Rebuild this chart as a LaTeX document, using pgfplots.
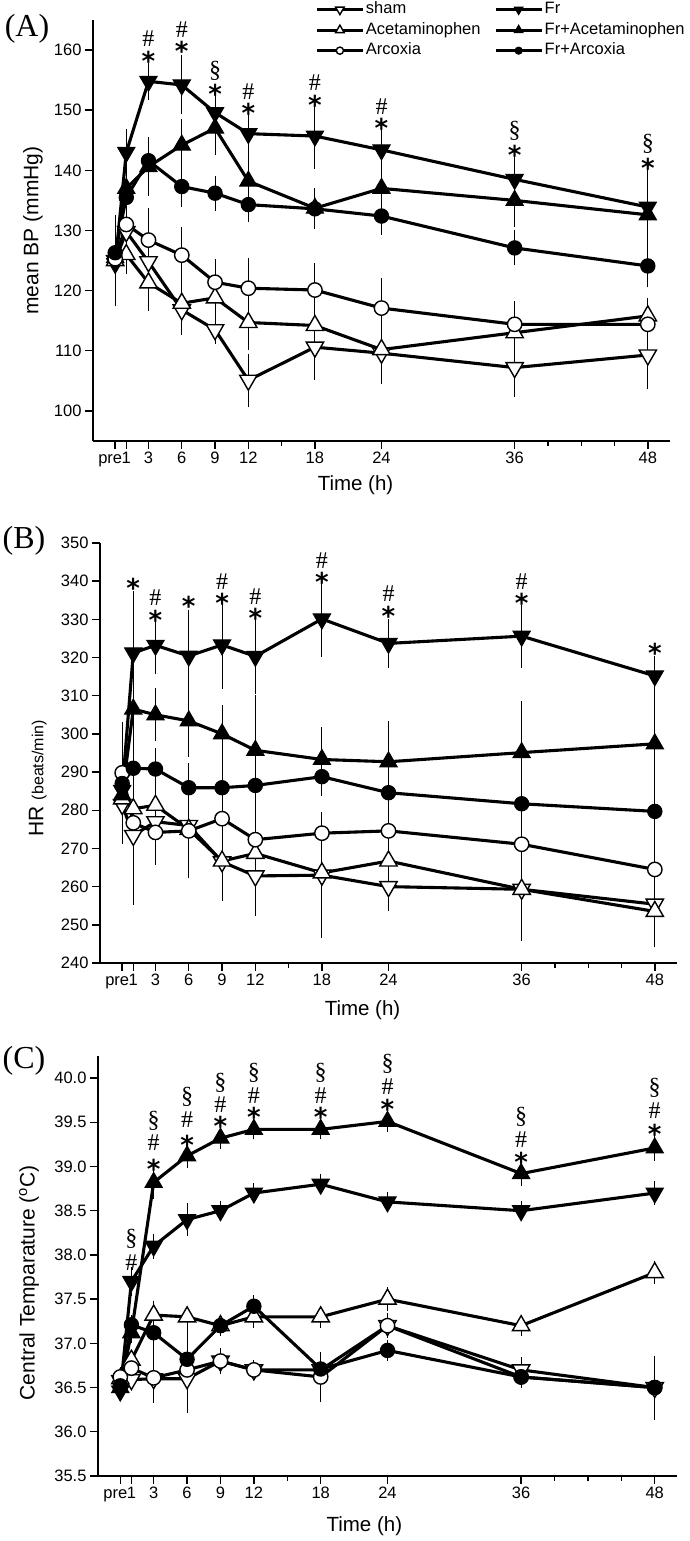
\documentclass[border=0pt]{standalone}
\usepackage{fontspec}
\setmainfont{Liberation Sans}
\newfontfamily\serif{Liberation Serif}
\newfontfamily\dejavu{DejaVu Sans}
\usepackage{pgfplots}
\pgfplotsset{compat=1.18}
\tikzset{
 ast/.style={font=\dejavu\bfseries\fontsize{26}{26}\selectfont, inner sep=0pt, anchor=base, yshift=-14.2pt},
 hsh/.style={font=\serif\fontsize{24}{24}\selectfont, inner sep=0pt, anchor=base, yshift=-8.1pt},
 sec/.style={font=\serif\fontsize{24}{24}\selectfont, inner sep=0pt, anchor=base, yshift=-6.5pt},
}
\pgfplotsset{
 panel/.style={
   scale only axis, width=577pt, anchor=south west,
   xmin=-2, xmax=50, clip=false,
   axis lines*=left,
   axis line style={line width=1.7pt},
   tick align=outside,
   major tick length=8pt, minor tick length=5pt,
   every tick/.style={line width=1.4pt, black},
   xtick={0,1,3,6,9,12,18,24,36,48},
   xticklabels={\makebox[0pt]{\hspace*{-10pt}pre},1,3,6,9,12,18,24,36,48},
   minor xtick={15,39,42,45},
   tick label style={font=\fontsize{16.5}{16.5}\selectfont},
   /pgf/number format/assume math mode=true,
   xticklabel style={text height=12pt, text depth=3.5pt, inner sep=2pt},
   xlabel={Time (h)},
   xlabel style={font=\fontsize{20.5}{20.5}\selectfont, anchor=center},
   ylabel style={font=\fontsize{21}{21}\selectfont, anchor=center},
   legend image code/.code={\draw[#1, every mark/.append style={scale=0.5}, mark repeat=2, mark phase=2] plot coordinates {(0pt,0pt) (23pt,0pt) (46pt,0pt)};},
 },
 ser/.style={black, line width=3.1pt, mark size=10pt,
   error bars/y dir=both, error bars/y explicit,
   error bars/error bar style={line width=1pt, solid},
   error bars/error mark options={black, line width=1pt, mark size=5.5pt}},
 sham/.style={ser, mark=triangle*, mark options={solid, rotate=180, fill=white, line width=1.4pt}},
 fr/.style={ser, mark=triangle*, mark options={solid, rotate=180, fill=black, line width=1pt}},
 acet/.style={ser, mark=triangle*, mark options={solid, fill=white, line width=1.4pt}},
 fracet/.style={ser, mark=triangle*, mark options={solid, fill=black, line width=1pt}},
 arc/.style={ser, mark=*, mark size=7.2pt, mark options={solid, fill=white, line width=1.4pt}},
 frarc/.style={ser, mark=*, mark size=7.2pt, mark options={solid, fill=black, line width=1pt}},
}
\begin{document}
\begin{tikzpicture}[x=1pt,y=1pt]
\useasboundingbox (0,0) rectangle (690,1541);
% ---------------- Panel A ----------------
\begin{axis}[panel, at={(93pt,1100pt)}, height=421pt,
  ymin=95, ymax=165, ytick={100,110,120,130,140,150,160},
  ylabel={mean BP (mmHg)},
  ylabel style={at={(axis description cs:-0.104,0.5)}},
  xlabel style={at={(axis description cs:0.455,-0.1045)}},
  legend columns=2, legend cell align=left,
  legend style={at={(axis description cs:0.385,1.047)}, anchor=north west, draw=none, fill=none, inner sep=0pt,
    font=\fontsize{16.5}{16.5}\selectfont, nodes={inner sep=1.5pt, text height=12pt, text depth=3.5pt},
    row sep=2pt, /tikz/every even column/.append style={column sep=12pt}},
]
\addplot[sham] coordinates {(0,125.0) +- (0,6.7) (1,129.8) +- (0,2.5) (3,124.8) +- (0,3.0) (6,116.8) +- (0,3.3) (9,113.5) +- (0,1.5) (12,105.1) +- (0,3.5) (18,110.6) +- (0,4.6) (24,109.6) +- (0,4.2) (36,107.2) +- (0,3.9) (48,109.3) +- (0,4.8)};
\addlegendentry{sham}
\addplot[fr] coordinates {(0,124.5) +- (0,2.0) (1,143.0) +- (0,3.0) (3,154.8) +- (0,2.2) (6,154.2) +- (0,4.0) (9,149.6) +- (0,2.1) (12,146.1) +- (0,2.9) (18,145.7) +- (0,4.5) (24,143.4) +- (0,3.0) (36,138.5) +- (0,3.3) (48,133.9) +- (0,5.6)};
\addlegendentry{Fr}
\addplot[acet] coordinates {(0,125.0) +- (0,2.0) (1,126.0) +- (0,2.3) (3,121.3) +- (0,3.7) (6,117.9) +- (0,3.0) (9,118.8) +- (0,3.0) (12,114.7) +- (0,3.6) (18,114.2) +- (0,2.0) (24,110.2) +- (0,4.0) (36,113.0) +- (0,3.0) (48,115.8) +- (0,2.0)};
\addlegendentry{Acetaminophen}
\addplot[fracet] coordinates {(0,125.5) +- (0,1.5) (1,137.0) +- (0,3.5) (3,140.6) +- (0,4.0) (6,144.2) +- (0,3.5) (9,147.0) +- (0,3.5) (12,138.2) +- (0,4.0) (18,133.7) +- (0,2.5) (24,137.0) +- (0,2.0) (36,135.0) +- (0,3.5) (48,132.6) +- (0,4.0)};
\addlegendentry{Fr+Acetaminophen}
\addplot[arc] coordinates {(0,125.3) +- (0,2.5) (1,131.0) +- (0,2.5) (3,128.4) +- (0,4.4) (6,125.9) +- (0,3.8) (9,121.4) +- (0,2.9) (12,120.4) +- (0,4.1) (18,120.1) +- (0,3.5) (24,117.1) +- (0,4.1) (36,114.4) +- (0,2.9) (48,114.4) +- (0,3.0)};
\addlegendentry{Arcoxia}
\addplot[frarc] coordinates {(0,126.3) +- (0,1.5) (1,135.5) +- (0,3.0) (3,141.6) +- (0,3.0) (6,137.3) +- (0,2.5) (9,136.2) +- (0,2.0) (12,134.3) +- (0,2.0) (18,133.6) +- (0,2.2) (24,132.4) +- (0,2.2) (36,127.1) +- (0,2.0) (48,124.1) +- (0,2.6)};
\addlegendentry{Fr+Arcoxia}
\node[hsh] at (axis cs:3,161.9) {\#}; \node[ast] at (axis cs:3,159.0) {*};
\node[hsh] at (axis cs:6,163.5) {\#}; \node[ast] at (axis cs:6,160.6) {*};
\node[sec] at (axis cs:9,156.6) {\S}; \node[ast] at (axis cs:9,153.4) {*};
\node[hsh] at (axis cs:12,153.2) {\#}; \node[ast] at (axis cs:12,150.3) {*};
\node[hsh] at (axis cs:18,154.6) {\#}; \node[ast] at (axis cs:18,151.7) {*};
\node[hsh] at (axis cs:24,150.7) {\#}; \node[ast] at (axis cs:24,147.8) {*};
\node[sec] at (axis cs:36,146.6) {\S}; \node[ast] at (axis cs:36,143.4) {*};
\node[sec] at (axis cs:48,144.4) {\S}; \node[ast] at (axis cs:48,141.1) {*};
\end{axis}
% ---------------- Panel B ----------------
\begin{axis}[panel, at={(100pt,578pt)}, height=420pt,
  ymin=240, ymax=350, ytick={240,250,260,270,280,290,300,310,320,330,340,350},
  ylabel={{\fontsize{21}{21}\selectfont HR} {\fontsize{16}{16}\selectfont (beats/min)}},
  ylabel style={at={(axis description cs:-0.108,0.44)}},
  xlabel style={at={(axis description cs:0.455,-0.112)}},
]
\addplot[sham] coordinates {(0,281.5) +- (0,9) (1,273.4) +- (0,10) (3,277.0) +- (0,7) (6,276.0) +- (0,12) (9,266.5) +- (0,8) (12,262.8) +- (0,9) (18,263.0) +- (0,15) (24,260.0) +- (0,5) (36,259.3) +- (0,9) (48,255.4) +- (0,8)};
\addplot[fr] coordinates {(0,285.2) +- (0,8) (1,321.2) +- (0,14.8) (3,323.2) +- (0,6) (6,320.4) +- (0,10.7) (9,323.3) +- (0,10) (12,320.3) +- (0,8.5) (18,330.1) +- (0,8.6) (24,323.7) +- (0,5) (36,325.6) +- (0,6.8) (48,315.2) +- (0,3.8)};
\addplot[acet] coordinates {(0,283.0) +- (0,10) (1,280.4) +- (0,8) (3,281.3) +- (0,8) (6,275.0) +- (0,11) (9,266.7) +- (0,9) (12,268.7) +- (0,8) (18,263.6) +- (0,9) (24,266.7) +- (0,8) (36,259.3) +- (0,12) (48,253.5) +- (0,8)};
\addplot[fracet] coordinates {(0,284.0) +- (0,6) (1,306.5) +- (0,12) (3,305.0) +- (0,5.5) (6,303.4) +- (0,8) (9,300.0) +- (0,6) (12,295.7) +- (0,13) (18,293.3) +- (0,7) (24,292.7) +- (0,9.2) (36,295.1) +- (0,12) (48,297.4) +- (0,13)};
\addplot[arc] coordinates {(0,289.8) +- (0,12) (1,276.7) +- (0,20) (3,274.2) +- (0,7) (6,274.6) +- (0,11) (9,277.8) +- (0,7) (12,272.3) +- (0,10) (18,274.0) +- (0,4) (24,274.6) +- (0,3) (36,271.1) +- (0,4) (48,264.5) +- (0,9)};
\addplot[frarc] coordinates {(0,287.0) +- (0,8) (1,291.0) +- (0,7) (3,290.8) +- (0,4) (6,285.9) +- (0,5) (9,285.9) +- (0,6) (12,286.5) +- (0,5) (18,288.8) +- (0,3.5) (24,284.6) +- (0,5) (36,281.7) +- (0,5) (48,279.7) +- (0,5)};
\node[ast] at (axis cs:1,339.4) {*};
\node[hsh] at (axis cs:3,335.7) {\#}; \node[ast] at (axis cs:3,331.1) {*};
\node[ast] at (axis cs:6,334.6) {*};
\node[hsh] at (axis cs:9,340.0) {\#}; \node[ast] at (axis cs:9,335.4) {*};
\node[hsh] at (axis cs:12,336.1) {\#}; \node[ast] at (axis cs:12,331.5) {*};
\node[hsh] at (axis cs:18,345.5) {\#}; \node[ast] at (axis cs:18,340.9) {*};
\node[hsh] at (axis cs:24,336.8) {\#}; \node[ast] at (axis cs:24,332.2) {*};
\node[hsh] at (axis cs:36,340.0) {\#}; \node[ast] at (axis cs:36,335.4) {*};
\node[ast] at (axis cs:48,322.4) {*};
\end{axis}
% ---------------- Panel C ----------------
\begin{axis}[panel, at={(98pt,65pt)}, width=579pt, height=420pt,
  ymin=35.5, ymax=40.25, ytick={35.5,36.0,36.5,37.0,37.5,38.0,38.5,39.0,39.5,40.0},
  yticklabel style={/pgf/number format/.cd, fixed, fixed zerofill, precision=1},
  ylabel={Central Temparature (\textsuperscript{o}C)},
  ylabel style={at={(axis description cs:-0.119,0.46)}},
  xlabel style={at={(axis description cs:0.46,-0.119)}},
]
\addplot[sham] coordinates {(0,36.58) +- (0,0.05) (1,36.59) +- (0,0.05) (3,36.60) +- (0,0.05) (6,36.60) +- (0,0.13) (9,36.80) +- (0,0.08) (12,36.70) +- (0,0.05) (18,36.70) +- (0,0.08) (24,37.20) +- (0,0.08) (36,36.70) +- (0,0.08) (48,36.50) +- (0,0.30)};
\addplot[fr] coordinates {(0,36.46) +- (0,0.05) (1,37.70) +- (0,0.10) (3,38.10) +- (0,0.08) (6,38.40) +- (0,0.12) (9,38.50) +- (0,0.05) (12,38.70) +- (0,0.05) (18,38.80) +- (0,0.05) (24,38.60) +- (0,0.05) (36,38.50) +- (0,0.05) (48,38.70) +- (0,0.07)};
\addplot[acet] coordinates {(0,36.60) +- (0,0.05) (1,36.81) +- (0,0.05) (3,37.32) +- (0,0.10) (6,37.30) +- (0,0.05) (9,37.20) +- (0,0.05) (12,37.30) +- (0,0.06) (18,37.30) +- (0,0.06) (24,37.50) +- (0,0.07) (36,37.20) +- (0,0.06) (48,37.80) +- (0,0.07)};
\addplot[fracet] coordinates {(0,36.50) +- (0,0.05) (1,37.12) +- (0,0.05) (3,38.82) +- (0,0.12) (6,39.12) +- (0,0.08) (9,39.32) +- (0,0.06) (12,39.42) +- (0,0.05) (18,39.42) +- (0,0.05) (24,39.51) +- (0,0.06) (36,38.92) +- (0,0.08) (48,39.21) +- (0,0.08)};
\addplot[arc] coordinates {(0,36.62) +- (0,0.05) (1,36.72) +- (0,0.05) (3,36.61) +- (0,0.22) (6,36.70) +- (0,0.43) (9,36.80) +- (0,0.06) (12,36.70) +- (0,0.05) (18,36.62) +- (0,0.22) (24,37.20) +- (0,0.06) (36,36.62) +- (0,0.06) (48,36.50) +- (0,0.30)};
\addplot[frarc] coordinates {(0,36.52) +- (0,0.05) (1,37.21) +- (0,0.05) (3,37.12) +- (0,0.30) (6,36.82) +- (0,0.30) (9,37.20) +- (0,0.05) (12,37.42) +- (0,0.06) (18,36.71) +- (0,0.10) (24,36.92) +- (0,0.06) (36,36.62) +- (0,0.06) (48,36.50) +- (0,0.10)};
\node[sec] at (axis cs:1,38.18) {\S}; \node[hsh] at (axis cs:1,37.92) {\#};
\node[sec] at (axis cs:3,39.51) {\S}; \node[hsh] at (axis cs:3,39.27) {\#}; \node[ast] at (axis cs:3,39.02) {*};
\node[sec] at (axis cs:6,39.79) {\S}; \node[hsh] at (axis cs:6,39.53) {\#}; \node[ast] at (axis cs:6,39.30) {*};
\node[sec] at (axis cs:9,39.94) {\S}; \node[hsh] at (axis cs:9,39.70) {\#}; \node[ast] at (axis cs:9,39.51) {*};
\node[sec] at (axis cs:12,40.06) {\S}; \node[hsh] at (axis cs:12,39.80) {\#}; \node[ast] at (axis cs:12,39.61) {*};
\node[sec] at (axis cs:18,40.06) {\S}; \node[hsh] at (axis cs:18,39.80) {\#}; \node[ast] at (axis cs:18,39.61) {*};
\node[sec] at (axis cs:24,40.16) {\S}; \node[hsh] at (axis cs:24,39.91) {\#}; \node[ast] at (axis cs:24,39.70) {*};
\node[sec] at (axis cs:36,39.56) {\S}; \node[hsh] at (axis cs:36,39.31) {\#}; \node[ast] at (axis cs:36,39.10) {*};
\node[sec] at (axis cs:48,39.89) {\S}; \node[hsh] at (axis cs:48,39.64) {\#}; \node[ast] at (axis cs:48,39.42) {*};
\end{axis}
\node[font=\serif\fontsize{32}{32}\selectfont] at (27,1512) {(A)};
\node[font=\serif\fontsize{32}{32}\selectfont] at (24,1000) {(B)};
\node[font=\serif\fontsize{32}{32}\selectfont] at (24,480) {(C)};
\end{tikzpicture}
\end{document}
